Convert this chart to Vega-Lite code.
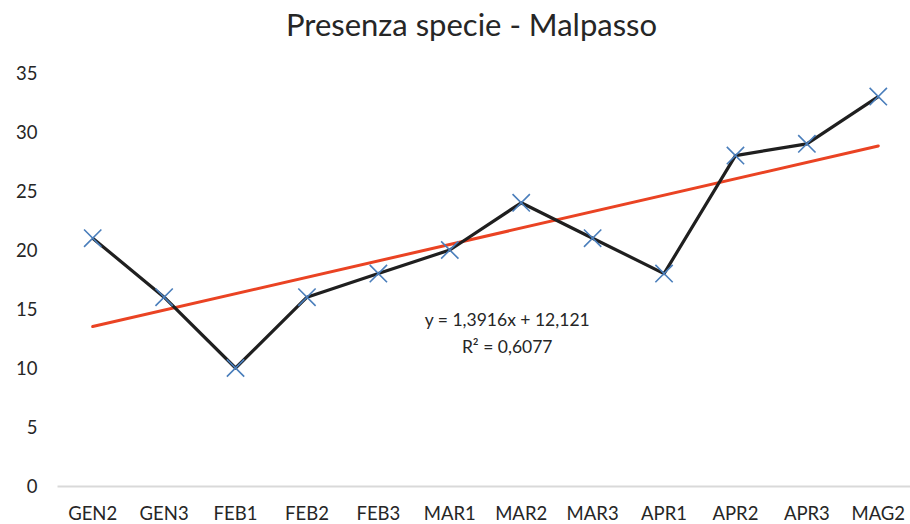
{
  "$schema": "https://vega.github.io/schema/vega-lite/v6.json",
  "autosize": "none",
  "width": 857,
  "height": 413,
  "padding": {"left": 57, "top": 73, "right": 0, "bottom": 38},
  "background": "white",
  "config": {
    "font": "Lato",
    "view": {"stroke": null},
    "title": {"font": "Lato", "fontSize": 31, "fontWeight": "normal", "color": "#262626", "offset": 21, "dx": -14}
  },
  "title": "Presenza specie - Malpasso",
  "datasets": {
    "obs": [
      {"periodo": "GEN2", "specie": 21},
      {"periodo": "GEN3", "specie": 16},
      {"periodo": "FEB1", "specie": 10},
      {"periodo": "FEB2", "specie": 16},
      {"periodo": "FEB3", "specie": 18},
      {"periodo": "MAR1", "specie": 20},
      {"periodo": "MAR2", "specie": 24},
      {"periodo": "MAR3", "specie": 21},
      {"periodo": "APR1", "specie": 18},
      {"periodo": "APR2", "specie": 28},
      {"periodo": "APR3", "specie": 29},
      {"periodo": "MAG2", "specie": 33}
    ],
    "trend": [
      {"periodo": "GEN2", "specie": 13.51},
      {"periodo": "MAG2", "specie": 28.82}
    ],
    "labels": [
      {"periodo": "MAR2", "specie": 14.0, "testo": "y = 1,3916x + 12,121"},
      {"periodo": "MAR2", "specie": 11.7, "testo": "R² = 0,6077"}
    ]
  },
  "encoding": {
    "x": {
      "field": "periodo", "type": "nominal", "sort": null,
      "scale": {"type": "band", "domain": ["GEN2","GEN3","FEB1","FEB2","FEB3","MAR1","MAR2","MAR3","APR1","APR2","APR3","MAG2"]},
      "axis": {"title": null, "labelAngle": 0, "labelFontSize": 18.5, "labelColor": "#262626", "labelFont": "Lato", "labelPadding": 18, "ticks": false, "domainColor": "#D9D9D9", "domainWidth": 2, "grid": false}
    },
    "y": {
      "field": "specie", "type": "quantitative",
      "scale": {"domain": [0, 35], "nice": false},
      "axis": {"title": null, "values": [0,5,10,15,20,25,30,35], "labelFontSize": 18.5, "labelColor": "#262626", "labelFont": "Lato", "labelPadding": 20, "ticks": false, "domain": false, "grid": false}
    }
  },
  "layer": [
    {
      "data": {"name": "trend"},
      "mark": {"type": "line", "color": "#EA4323", "strokeWidth": 3, "strokeCap": "round"}
    },
    {
      "data": {"name": "obs"},
      "mark": {"type": "line", "color": "#1F1F1F", "strokeWidth": 3.2, "strokeJoin": "round"}
    },
    {
      "data": {"name": "obs"},
      "mark": {"type": "point", "shape": "M-1,-1L1,1M-1,1L1,-1", "filled": false, "stroke": "#4A7EBB", "strokeWidth": 1.6, "size": 300, "opacity": 1}
    },
    {
      "data": {"name": "labels"},
      "mark": {"type": "text", "fontSize": 17.5, "color": "#262626", "font": "Lato", "dx": -14, "baseline": "middle", "align": "center"},
      "encoding": {"text": {"field": "testo"}}
    }
  ]
}
